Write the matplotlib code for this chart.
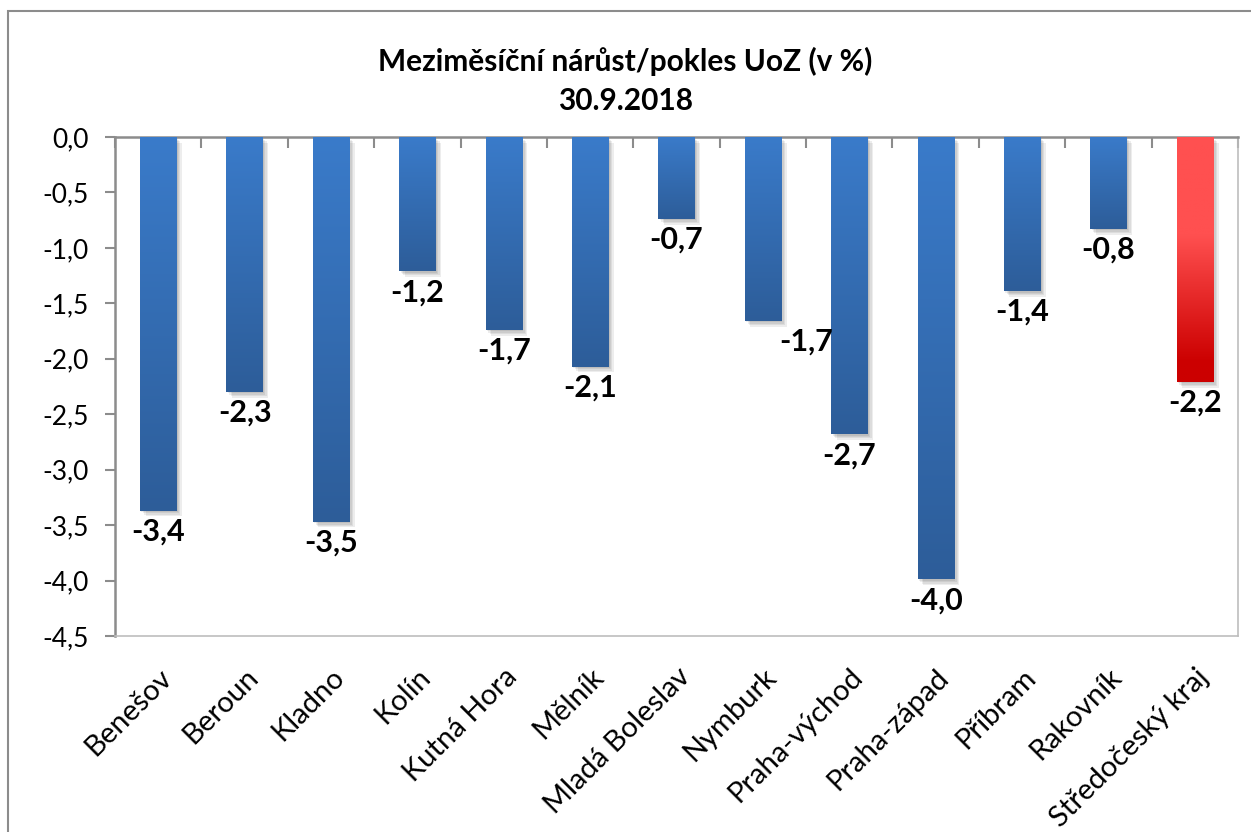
import matplotlib
matplotlib.use('Agg')
import matplotlib.pyplot as plt
import matplotlib.patheffects as pe
from matplotlib.colors import LinearSegmentedColormap
from matplotlib.patches import Rectangle
import numpy as np

# data
okresy = ['Benešov', 'Beroun', 'Kladno', 'Kolín', 'Kutná Hora', 'Mělník',
          'Mladá Boleslav', 'Nymburk', 'Praha-východ', 'Praha-západ',
          'Příbram', 'Rakovník', 'Středočeský kraj']
zmena = [-3.37, -2.30, -3.47, -1.21, -1.74, -2.07, -0.74, -1.66, -2.68, -3.99,
         -1.39, -0.83, -2.21]
yticks = [0.0, -0.5, -1.0, -1.5, -2.0, -2.5, -3.0, -3.5, -4.0, -4.5]

plt.rcParams['font.family'] = ['Lato', 'DejaVu Sans']

fig = plt.figure(figsize=(12.51, 8.32), dpi=100)
ax = fig.add_axes([115/1251, 1 - 636/832, (1238 - 115)/1251, (636 - 137)/832])

# outer chart border
fig.patches.append(Rectangle((8/1251, -0.1), 1.2, 1.1 - 11/832, transform=fig.transFigure,
                             fill=False, edgecolor='#8c8c8c', linewidth=1.5))

blue = LinearSegmentedColormap.from_list('b', ['#2d5d99', '#3a7bca'])
red = LinearSegmentedColormap.from_list('r', [(0, '#cc0000'), (0.08, '#cc0000'),
                                              (0.6, '#ff5050'), (1, '#ff5050')])
grad = np.linspace(0, 1, 256).reshape(-1, 1)

# soft drop shadow
shadow = [pe.SimplePatchShadow(offset=(k, -k), alpha=0.07, shadow_rgbFace='k')
          for k in (1, 2, 3, 4)] + [pe.Normal()]

x = np.arange(len(okresy))
bars = ax.bar(x, zmena, width=0.42, color='#3a7bca', zorder=2, path_effects=shadow)
for i, b in enumerate(bars):
    cm = red if i == len(bars) - 1 else blue
    im = ax.imshow(grad, cmap=cm, aspect='auto', origin='lower', zorder=3,
                   extent=[b.get_x(), b.get_x() + b.get_width(), b.get_height(), 0])
    im.set_clip_path(b)

for i, v in enumerate(zmena):
    dx = 31 if okresy[i] == 'Nymburk' else 0
    ax.annotate(f'{v:.1f}'.replace('.', ','), (x[i], v), xytext=(dx, -5),
                textcoords='offset points', ha='center', va='top',
                fontsize=22, fontweight='bold', zorder=5)

ax.set_xlim(-0.5, len(okresy) - 0.5)
ax.set_ylim(-4.5, 0)
ax.set_yticks(yticks)
ax.set_yticklabels([f'{t:.1f}'.replace('.', ',') for t in yticks])
ax.set_xticks(x)
ax.set_xticklabels(okresy, rotation=45, ha='right', rotation_mode='anchor')
ax.set_xticks(np.arange(len(okresy) + 1) - 0.5, minor=True)

ax.tick_params(axis='y', direction='out', length=7, width=1.5, color='#8c8c8c',
               labelsize=19, pad=12)
ax.tick_params(axis='x', which='major', length=0, labelsize=21, pad=20)
ax.tick_params(axis='x', which='minor', top=True, bottom=False, direction='in',
               length=8, width=1.5, color='#8c8c8c')

for s in ['top', 'left']:
    ax.spines[s].set_color('#8c8c8c')
    ax.spines[s].set_linewidth(1.8)
for s in ['bottom', 'right']:
    ax.spines[s].set_color('#bdbdbd')
    ax.spines[s].set_linewidth(1.2)

fig.text(0.5, 1 - 81/832, 'Meziměsíční nárůst/pokles UoZ (v %)\n30.9.2018',
         ha='center', va='center', fontsize=21.5, fontweight='bold', linespacing=1.5)

fig.savefig('out.png', dpi=100)
